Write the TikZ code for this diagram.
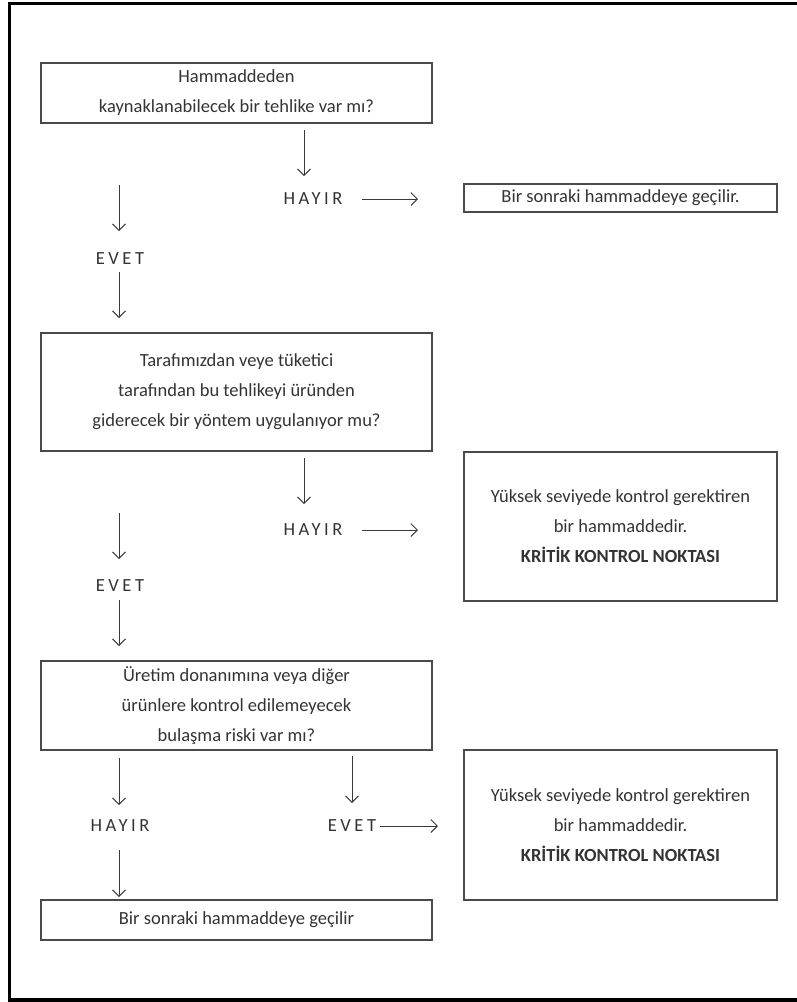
\documentclass[tikz,border=0pt]{standalone}
\usepackage{fontspec}
\setmainfont{Carlito}
\newfontfamily\spacedfont[LetterSpace=19]{Carlito}
\usetikzlibrary{arrows.meta}
\definecolor{boxgray}{HTML}{4A4A4A}
\definecolor{textgray}{HTML}{333333}
\definecolor{arrgray}{HTML}{3A3A3A}
\begin{document}
\begin{tikzpicture}[x=1pt,y=-1pt,
  box/.style={draw=boxgray, line width=1.3pt, rectangle, inner sep=0pt, align=center,
    text=textgray, font=\fontsize{18.5}{30}\selectfont},
  lbl/.style={text=textgray, font=\spacedfont\fontsize{18.5}{22}\selectfont, inner sep=0pt},
  arr/.style={draw=arrgray, line width=0.9pt, -{Straight Barb[length=6.5pt,width=13pt]}}]
\useasboundingbox (0,0) rectangle (797,1002);
\draw[line width=3.2pt] (9.5,3.5) rectangle (806,1000);

% boxes
\node[box, minimum width=391pt, minimum height=60pt] (q1) at (236.5,93)
  {Hammaddeden\\kaynaklanabilecek bir tehlike var mı?};
\node[box, minimum width=313pt, minimum height=28pt] (n1) at (620.5,198)
  {Bir sonraki hammaddeye geçilir.};
\node[box, minimum width=391pt, minimum height=118pt] (q2) at (236.5,392)
  {Tarafımızdan veye tüketici\\tarafından bu tehlikeyi üründen\\giderecek bir yöntem uygulanıyor mu?};
\node[box, minimum width=313pt, minimum height=149pt] (k1) at (620.5,526.5)
  {Yüksek seviyede kontrol gerektiren\\bir hammaddedir.\\\textbf{KRİTİK KONTROL NOKTASI}};
\node[box, minimum width=391pt, minimum height=89pt] (q3) at (236.5,705.5)
  {Üretim donanımına veya diğer\\ürünlere kontrol edilemeyecek\\bulaşma riski var mı?};
\node[box, minimum width=313pt, minimum height=150pt] (k2) at (620.5,825)
  {Yüksek seviyede kontrol gerektiren\\bir hammaddedir.\\\textbf{KRİTİK KONTROL NOKTASI}};
\node[box, minimum width=391pt, minimum height=40pt] (n2) at (236.5,920)
  {Bir sonraki hammaddeye geçilir};

% labels
\node[lbl] (h1) at (313,199) {HAYIR};
\node[lbl] (e1) at (120,259) {EVET};
\node[lbl] (h2) at (313,530) {HAYIR};
\node[lbl] (e2) at (120,586) {EVET};
\node[lbl] (h3) at (120,826) {HAYIR};
\node[lbl] (e3) at (352,826) {EVET};

% arrow end points
\coordinate (a1s) at (304,130); \coordinate (a1e) at (304,176);
\coordinate (a2s) at (362,199); \coordinate (a2e) at (418,199);
\coordinate (a3s) at (119,185); \coordinate (a3e) at (119,231);
\coordinate (a4s) at (119,272); \coordinate (a4e) at (119,318);
\coordinate (b1s) at (304,458); \coordinate (b1e) at (304,504);
\coordinate (b2s) at (362,530); \coordinate (b2e) at (418,530);
\coordinate (b3s) at (119,513); \coordinate (b3e) at (119,559);
\coordinate (b4s) at (119,600); \coordinate (b4e) at (119,646);
\coordinate (c1s) at (119,758); \coordinate (c1e) at (119,805);
\coordinate (c2s) at (119,850); \coordinate (c2e) at (119,897);
\coordinate (c3s) at (352,756); \coordinate (c3e) at (352,803);
\coordinate (c4s) at (380,826); \coordinate (c4e) at (438,826);

\foreach \p in {a1,a2,a3,a4,b1,b2,b3,b4,c1,c2,c3,c4}
  \draw[arr] (\p s) -- (\p e);
\end{tikzpicture}
\end{document}
